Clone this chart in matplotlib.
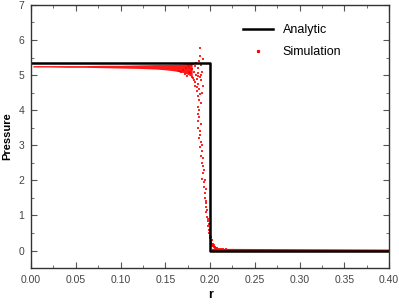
import matplotlib
matplotlib.use("Agg")
import matplotlib.pyplot as plt
from matplotlib.lines import Line2D
from matplotlib.ticker import MultipleLocator

plt.rcParams['font.family'] = ['Liberation Sans', 'DejaVu Sans']

# analytic step solution
analytic_r = [0.0, 0.2, 0.2, 0.40]
analytic_p = [5.33, 5.33, 0.0, 0.0]

# dense simulation band on the left (upper / lower edge of the point cloud)
band_r = [0.002, 0.02, 0.04, 0.06, 0.08, 0.10, 0.12, 0.14, 0.15, 0.16, 0.17, 0.175, 0.18]
band_hi = [5.27, 5.27, 5.27, 5.27, 5.28, 5.28, 5.29, 5.30, 5.30, 5.31, 5.32, 5.33, 5.34]
band_lo = [5.23, 5.23, 5.22, 5.22, 5.21, 5.20, 5.19, 5.17, 5.15, 5.12, 5.07, 5.02, 4.95]

# scattered simulation points around the shock
sim_r = [0.165, 0.168, 0.170, 0.172, 0.173, 0.174,
         0.175, 0.176, 0.177, 0.178, 0.179, 0.180, 0.180, 0.181, 0.182, 0.182,
         0.183, 0.183, 0.184, 0.184, 0.185, 0.185, 0.186, 0.186, 0.187, 0.187,
         0.188, 0.188, 0.188, 0.189, 0.189, 0.189, 0.190, 0.190, 0.190, 0.191,
         0.191, 0.192, 0.192, 0.181, 0.183, 0.185, 0.186, 0.189, 0.190,
         0.186, 0.187, 0.186, 0.188, 0.187, 0.189, 0.188, 0.190, 0.189, 0.191,
         0.190, 0.191, 0.192, 0.192, 0.191, 0.193, 0.193, 0.194, 0.194, 0.195,
         0.195, 0.196, 0.197, 0.198, 0.198, 0.199, 0.199, 0.200, 0.200, 0.201,
         0.201, 0.202, 0.202, 0.203, 0.204, 0.205, 0.206, 0.207, 0.208, 0.210,
         0.212, 0.215, 0.218, 0.222,
         0.188, 0.190, 0.189, 0.191, 0.192, 0.193, 0.194, 0.195, 0.196, 0.197,
         0.198, 0.199, 0.200, 0.201, 0.202, 0.203, 0.204]
sim_p = [5.12, 5.08, 5.15, 5.03, 5.20, 4.98,
         5.30, 5.10, 5.22, 5.05, 5.28, 4.95, 5.18, 5.32, 4.85, 5.08,
         5.25, 4.70, 5.00, 5.35, 4.55, 4.90, 5.20, 4.40, 4.75, 5.05,
         4.30, 4.60, 5.40, 4.95, 5.77, 5.55, 4.20, 4.85, 5.30, 4.50,
         5.10, 4.70, 5.45, 4.92, 4.80, 4.65, 4.98, 4.45, 5.00,
         4.10, 3.90, 3.70, 3.80, 3.50, 3.40, 3.20, 3.10, 2.95, 2.85,
         2.70, 2.50, 2.40, 2.20, 2.05, 1.95, 1.80, 1.65, 1.50, 1.40,
         1.25, 1.10, 0.95, 0.85, 0.70, 0.60, 0.50, 0.42, 0.35, 0.28,
         0.22, 0.18, 0.14, 0.12, 0.10, 0.08, 0.09, 0.07, 0.06, 0.05,
         0.05, 0.04, 0.04, 0.03,
         4.00, 3.60, 3.30, 3.00, 2.65, 2.30, 2.00, 1.75, 1.35, 1.15,
         0.90, 0.75, 0.55, 0.40, 0.30, 0.20, 0.15]

# flat tail after the shock
tail_r = [0.203, 0.40]
tail_p = [0.02, 0.0]

fig = plt.figure(figsize=(3.99, 3.04), dpi=100)
ax = fig.add_axes([0.078, 0.118, 0.897, 0.866])

ax.fill_between(band_r, band_lo, band_hi, color='red', lw=0, alpha=0.9)
ax.plot(tail_r, tail_p, color='red', lw=1.5)
ax.plot(analytic_r, analytic_p, color='black', lw=1.8)
ax.scatter(sim_r, sim_p, s=1.8, color='red', lw=0, marker='s', alpha=0.85)

ax.set_xlim(0, 0.40)
ax.set_ylim(-0.5, 7)
ax.xaxis.set_major_locator(MultipleLocator(0.05))
ax.xaxis.set_minor_locator(MultipleLocator(0.025))
ax.yaxis.set_major_locator(MultipleLocator(1))
ax.yaxis.set_minor_locator(MultipleLocator(0.5))
ax.xaxis.set_major_formatter(plt.FuncFormatter(lambda v, p: '%.2f' % v))

ax.tick_params(which='both', direction='in', top=True, right=True,
               colors='#555555', labelcolor='#444444', labelsize=7.5)
ax.tick_params(which='major', length=4, pad=5)
ax.tick_params(which='minor', length=2)
for s in ax.spines.values():
    s.set_color('#333333')
    s.set_linewidth(1.0)

ax.set_xlabel('r', fontsize=9, fontweight='bold', labelpad=3)
ax.set_ylabel('Pressure', fontsize=8, fontweight='bold', labelpad=4)

handles = [Line2D([], [], color='black', lw=1.8),
           Line2D([], [], color='red', marker='s', ms=1.3, lw=0)]
ax.legend(handles, ['Analytic', 'Simulation'], loc='upper left',
          bbox_to_anchor=(0.56, 0.97), frameon=False, fontsize=9,
          handlelength=2.4, labelspacing=0.8)

fig.savefig('out.png', dpi=100)
